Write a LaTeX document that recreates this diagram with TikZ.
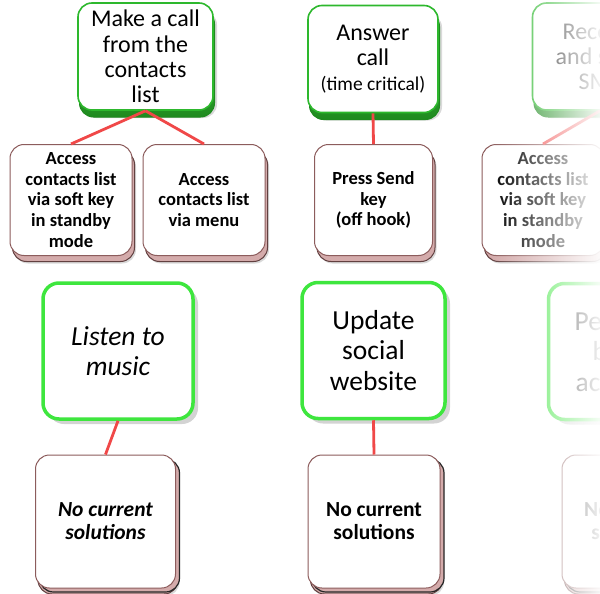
\documentclass[tikz,border=0pt]{standalone}
\usepackage{fontspec}
\setmainfont{Carlito}
\usetikzlibrary{shadows,fadings}

\definecolor{ink}{HTML}{000000}
\definecolor{taskgreen}{HTML}{2DB82D}
\definecolor{bevelgreen}{HTML}{1F8A1F}
\definecolor{lightgreen}{HTML}{52D652}
\definecolor{brightgreen}{HTML}{3EE63E}
\definecolor{stepedge}{HTML}{8C5C5C}
\definecolor{stepbevel}{HTML}{D4ABAB}
\definecolor{linkred}{HTML}{F04848}

\newcommand{\taskfont}{\fontsize{24}{25.3}\selectfont}
\newcommand{\notefont}{\fontsize{19.5}{20}\selectfont}
\newcommand{\stepfont}{\fontsize{18.5}{20.8}\selectfont\bfseries}
\newcommand{\goalfont}{\fontsize{27.5}{30.5}\selectfont}
\newcommand{\nonefont}{\fontsize{21.5}{23}\selectfont\bfseries}

% right edge of the slide washes out to white
\tikzfading[name=wash right, left color=transparent!100, right color=transparent!0]

\tikzset{
  every picture/.style = {line join=round},
  task/.style     = {rectangle, rounded corners=14pt, draw=taskgreen, line width=1.6pt,
                     fill=white, text=ink, align=center, inner sep=0pt, font=\taskfont,
                     minimum width=135pt, minimum height=107pt,
                     drop shadow={shadow xshift=4pt, shadow yshift=-8pt, opacity=0.3},
                     general shadow={shadow xshift=1.5pt, shadow yshift=-7pt, draw=bevelgreen,
                                     line width=1pt, top color=lightgreen, bottom color=bevelgreen}},
  stepbox/.style  = {rectangle, rounded corners=14pt, draw=stepedge, line width=1pt,
                     fill=white, text=ink, align=center, inner sep=0pt, font=\stepfont,
                     minimum width=122pt, minimum height=111pt,
                     drop shadow={shadow xshift=4pt, shadow yshift=-8pt, opacity=0.3},
                     general shadow={shadow xshift=2.5pt, shadow yshift=-6pt, fill=stepbevel,
                                     draw=stepedge!70!black, line width=1pt}},
  goal/.style     = {rectangle, rounded corners=16pt, draw=brightgreen, line width=3.5pt,
                     fill=white, text=ink, align=center, inner sep=0pt, font=\goalfont,
                     minimum width=143pt, minimum height=136pt,
                     drop shadow={shadow xshift=5pt, shadow yshift=-5pt, opacity=0.35}},
  nonebox/.style  = {stepbox, font=\nonefont, minimum width=140pt, minimum height=133pt,
                     general shadow={shadow xshift=4pt, shadow yshift=-4pt, fill=stepbevel,
                                     draw=black!85, line width=1.2pt}},
  link/.style     = {draw=linkred, line width=2.8pt},
}

\begin{document}
\begin{tikzpicture}[x=1pt, y=-1pt]
  \useasboundingbox (0,0) rectangle (600,594);
  \clip (0,0) rectangle (600,594);

  % --- top row: tasks and the steps under them ---
  \node[task] (call) at (145.5,56.5) {Make a call\\from the\\contacts\\list};
  \node[task, minimum width=130pt] (answer) at (373,59) {Answer\\call\\{\notefont (time critical)}};
  \node[task] (sms) at (600,56.5) {Receive\\and send\\SMS};

  \node[stepbox] (viasoft) at (71,200) {Access\\contacts list\\via soft key\\in standby\\mode};
  \node[stepbox] (viamenu) at (204,200) {Access\\contacts list\\via menu};
  \node[stepbox, minimum width=118pt] (sendkey) at (373.5,200) {Press Send\\key\\(off hook)};
  \node[stepbox] (smssoft) at (543,200) {Access\\contacts list\\via soft key\\in standby\\mode};

  \draw[link] (call.south) -- (viasoft.north);
  \draw[link] (call.south) -- (viamenu.north);
  \draw[link] (answer.south) -- (sendkey.north);
  \draw[link] (sms.south) -- (smssoft.north);

  % --- bottom row: goals with no current solution ---
  \node[goal, minimum width=150pt, font=\goalfont\itshape] (music) at (118,351) {Listen to\\music};
  \node[goal] (social) at (373.5,350.5) {Update\\social\\website};
  \node[goal] (bank) at (620,351.5) {Perform\\bank\\account};

  \node[nonebox, font=\nonefont\itshape] (nomusic) at (105.5,521.5) {No current\\solutions};
  \node[nonebox, minimum width=132pt] (nosocial) at (374,521.5) {No current\\solutions};
  \node[nonebox] (nobank) at (632,521.5) {No current\\solutions};

  \draw[link] (music.south) -- (nomusic.north);
  \draw[link] (social.south) -- (nosocial.north);
  \draw[link] (bank.south) -- (nobank.north);

  % wash-out on the right
  \fill[white, path fading=wash right] (490,-10) rectangle (606,604);
\end{tikzpicture}
\end{document}
